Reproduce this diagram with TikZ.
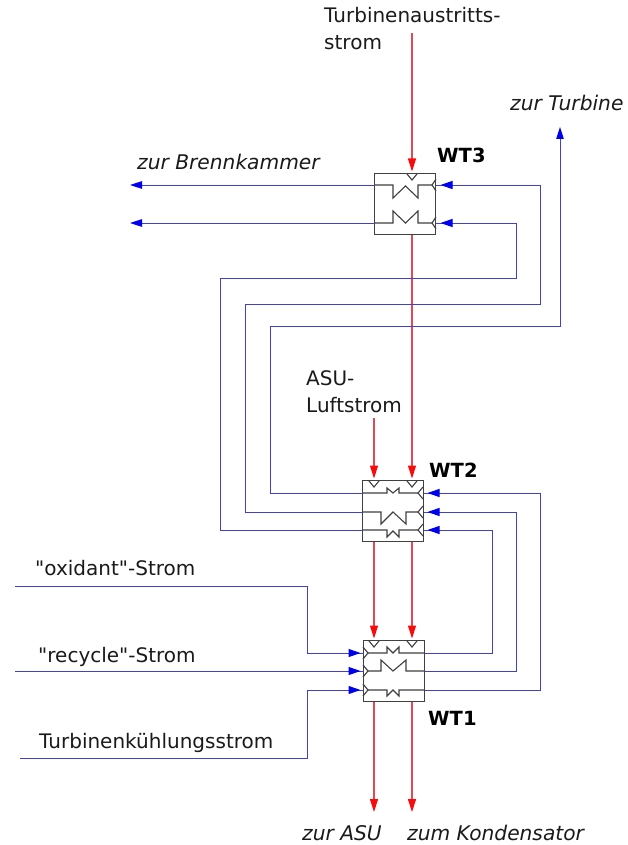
\documentclass[tikz,border=0pt]{standalone}
\usepackage{fontspec}
\setmainfont{DejaVu Sans}[Ligatures=TeXOff]
\usetikzlibrary{arrows.meta,calc,decorations.markings}
\definecolor{ink}{HTML}{1A1A1A}
\definecolor{frame}{HTML}{404040}
\definecolor{coldflow}{HTML}{4040C8}
\definecolor{coldtip}{HTML}{0000F0}
\definecolor{hotflow}{HTML}{E04A55}
\definecolor{hottip}{HTML}{FA0A0A}

\begin{document}
\begin{tikzpicture}[
  x=1pt, y=-1pt,
  hx/.style={rectangle, draw=frame, line width=1.4pt, fill=white, minimum width=61pt, minimum height=61pt, inner sep=0pt, outer sep=0pt},
  label/.style={anchor=base west, inner sep=0pt, font=\fontsize{20}{27}\selectfont, text=ink, align=left},
  slanted/.style={label, font=\fontsize{20.2}{27}\selectfont\itshape},
  tag/.style={anchor=base west, inner sep=0pt, font=\fontsize{19.5}{20}\selectfont\bfseries, text=black},
  hotline/.style={hotflow, line width=1.1pt, -{Triangle[length=13pt,width=8pt,color=hottip]}, shorten >=2pt},
  coldout/.style={coldflow, line width=1pt, -{Triangle[length=12pt,width=7.5pt,color=coldtip]}},
  inflow/.style={coldflow, line width=1pt, postaction={decorate},
    decoration={markings, mark=at position -#1 with {\arrow{Triangle[length=12pt,width=8pt,color=coldtip]}}}},
  core/.style={frame, line width=1.1pt},
]
  \useasboundingbox (0,0) rectangle (627,845);

  % Waermetauscher
  \node[hx] (wt3) at (405,204) {};
  \node[hx] (wt2) at (393,511) {};
  \node[hx] (wt1) at (394,671) {};

  \node[tag] (wt3tag) at (437,163) {WT3};
  \node[tag] (wt2tag) at (429,477) {WT2};
  \node[tag] (wt1tag) at (428,725) {WT1};

  \node[label] (turb) at (324,50) {Turbinenaustritts-\\strom};
  \node[label] (asu) at (306,412) {ASU-\\Luftstrom};
  \node[label] (oxi) at (35,575) {"oxidant"-Strom};
  \node[label] (rec) at (38,662) {"recycle"-Strom};
  \node[label] (kuehl) at (39,748) {Turbinenkühlungsstrom};
  \node[slanted] (brenn) at (137,170) {zur Brennkammer};
  \node[slanted] (zturb) at (510,111) {zur Turbine};
  \node[slanted] (zasu) at (302,840) {zur ASU};
  \node[slanted] (zkond) at (407,840) {zum Kondensator};

  % Anschluesse
  \coordinate (a) at (374,0);
  \coordinate (b) at (412,0);
  \coordinate (r1) at (0,185);
  \coordinate (r2) at (0,223);
  \coordinate (s1) at (0,493);
  \coordinate (s2) at (0,512);
  \coordinate (s3) at (0,530);
  \coordinate (t1) at (0,653);
  \coordinate (t2) at (0,671);
  \coordinate (t3) at (0,690);
  \coordinate (turbin) at (412,33);
  \coordinate (asuin) at (374,418);
  \coordinate (asuout) at (374,812);
  \coordinate (kondout) at (412,812);
  \coordinate (brennout) at (130,185);
  \coordinate (rueck) at (130,223);
  \coordinate (turbout) at (560,127);
  \coordinate (oxistart) at (15,586);
  \coordinate (recstart) at (15,671);
  \coordinate (kuehlstart) at (20,758);

  % rote Stroeme
  \draw[hotline] (turbin) -- (b |- wt3.north);
  \draw[hotline] (b |- wt3.south) -- (b |- wt2.north);
  \draw[hotline] (asuin) -- (a |- wt2.north);
  \draw[hotline] (a |- wt2.south) -- (a |- wt1.north);
  \draw[hotline] (b |- wt2.south) -- (b |- wt1.north);
  \draw[hotline, shorten >=0pt] (a |- wt1.south) -- (asuout);
  \draw[hotline, shorten >=0pt] (b |- wt1.south) -- (kondout);

  % blaue Stroeme
  \draw[coldout] (wt3.west |- r1) -- (brennout);
  \draw[coldout] (wt3.west |- r2) -- (rueck);
  \draw[inflow=5pt] (wt2.west |- s2) -- (245,512) -- (245,304) -- (540,304) -- (540,185) -- (wt3.east |- r1);
  \draw[inflow=5pt] (wt2.west |- s3) -- (220,530) -- (220,278) -- (516,278) -- (516,223) -- (wt3.east |- r2);
  \draw[coldout] (wt2.west |- s1) -- (270,493) -- (270,326) -- (560,326) -- (turbout);
  \draw[inflow=4pt] (wt1.east |- t3) -- (540,690) -- (540,493) -- (wt2.east |- s1);
  \draw[inflow=4pt] (wt1.east |- t2) -- (516,671) -- (516,512) -- (wt2.east |- s2);
  \draw[inflow=4pt] (wt1.east |- t1) -- (492,653) -- (492,530) -- (wt2.east |- s3);
  \draw[inflow=3pt] (oxistart) -- (307,586) -- (307,653) -- (wt1.west |- t1);
  \draw[inflow=3pt] (recstart) -- (wt1.west |- t2);
  \draw[inflow=3pt] (kuehlstart) -- (307,758) -- (307,690) -- (wt1.west |- t3);

  % WT3 innen
  \draw[core] (wt3.west |- r1) -- (393,185) -- (393,198) -- (405.5,186) -- (418,198) -- (418,185) -- (432,185);
  \draw[core] (wt3.west |- r2) -- (393,223) -- (393,211) -- (405.5,223) -- (418,211) -- (418,223) -- (432,223);
  \draw[core] (407,174) -- (412,180) -- (417,174);
  \foreach \y in {185,223}
    \draw[core] (436,\y-6) -- (432,\y) -- (436,\y+6);

  % WT2 innen
  \draw[core] (wt2.west |- s1) -- (387,493) -- (387,488) -- (393,493) -- (399,488) -- (399,493) -- (418,493);
  \draw[core] (wt2.west |- s2) -- (381,512) -- (381,524) -- (393,512) -- (406,524) -- (406,512) -- (418,512);
  \draw[core] (wt2.west |- s3) -- (387,530) -- (387,537) -- (393,531) -- (399,537) -- (399,530) -- (418,530);
  \foreach \x in {374,412}
    \draw[core] (\x-5,481) -- (\x,487) -- (\x+5,481);
  \foreach \y in {493,512,530}
    \draw[core] (423,\y-6) -- (418,\y) -- (423,\y+6);

  % WT1 innen
  \draw[core] (368,653) -- (387,653) -- (387,647) -- (393,653) -- (399,647) -- (399,653) -- (wt1.east |- t1);
  \draw[core] (368,671) -- (381,671) -- (381,660) -- (393,671) -- (406,660) -- (406,671) -- (wt1.east |- t2);
  \draw[core] (368,690) -- (387,690) -- (387,696) -- (393,690) -- (399,696) -- (399,690) -- (wt1.east |- t3);
  \foreach \x in {374,412}
    \draw[core] (\x-5,641) -- (\x,647) -- (\x+5,641);
  \foreach \y in {653,671,690}
    \draw[core] (363,\y-6) -- (368,\y) -- (363,\y+6);
\end{tikzpicture}
\end{document}
